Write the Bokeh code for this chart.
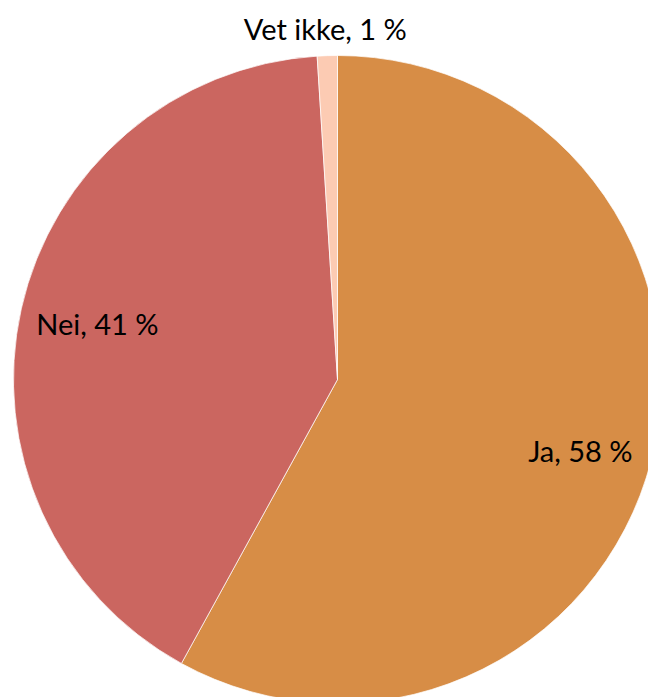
import math
from bokeh.plotting import figure
from bokeh.models import ColumnDataSource
from bokeh.core.properties import value
from bokeh.embed import file_html
from bokeh.resources import INLINE

categories = ["Ja", "Nei", "Vet ikke"]
values = [58, 41, 1]
labels = ["Ja, 58 %", "Nei, 41 %", "Vet ikke, 1 %"]
colors = ["#D78D46", "#CB6660", "#FCCBB3"]
label_radius = [0.781, 0.761, 1.084]
label_angle_shift = [-1.9, -0.5, 0.2]

W, H = 648, 697
cx, cy, r = 337, 318, 324

total = sum(values)
starts, ends = [], []
a = math.pi / 2
for v in values:
    sweep = 2 * math.pi * v / total
    starts.append(a - sweep)
    ends.append(a)
    a -= sweep

lx, ly = [], []
for s, e, f, d in zip(starts, ends, label_radius, label_angle_shift):
    m = (s + e) / 2 + math.radians(d)
    lx.append(cx + f * r * math.cos(m))
    ly.append(cy + f * r * math.sin(m))

src = ColumnDataSource(dict(cat=categories, val=values, start=starts, end=ends,
                            color=colors, label=labels, lx=lx, ly=ly))

p = figure(width=W, height=H, x_range=(0, W), y_range=(0, H),
           output_backend="svg", toolbar_location=None, min_border=0)
p.wedge(x=cx, y=cy, radius=r, start_angle="start", end_angle="end",
        fill_color="color", line_color="white", line_width=0.7, source=src)
p.text(x="lx", y="ly", text="label", source=src, text_align="center",
       text_baseline="middle", text_font=value("Lato"), text_font_size="29px",
       text_color="black")
p.axis.visible = False
p.grid.visible = False
p.outline_line_color = None
p.background_fill_color = "white"
p.border_fill_color = "white"

open("out.html", "w").write(file_html(p, INLINE))
